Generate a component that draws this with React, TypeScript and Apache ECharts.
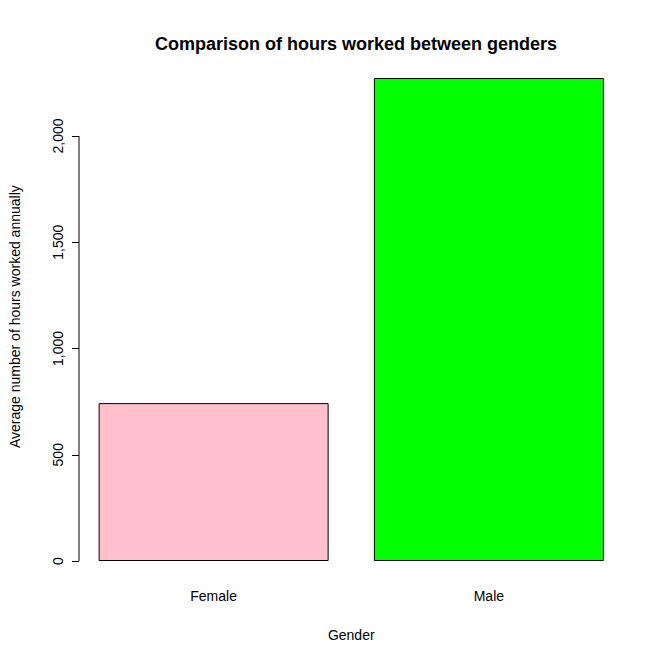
import React, { useEffect, useRef } from "react";
import * as echarts from "echarts";

const categories = ["Female", "Male"];
const hours = [743, 2273];
const barColors = ["#FFC0CB", "#00FF00"];
const yTicks = [0, 500, 1000, 1500, 2000];

export default function App() {
  const ref = useRef<HTMLDivElement>(null);
  useEffect(() => {
    const chart = echarts.init(ref.current!, undefined, { renderer: "svg" });
    const font = "Liberation Sans, Arial, sans-serif";
    chart.setOption({
      animation: false,
      textStyle: { fontFamily: font },
      title: {
        text: "Comparison of hours worked between genders",
        left: 351, top: 30, textAlign: "center",
        textStyle: { fontSize: 18, fontWeight: "bold", color: "#000", fontFamily: font },
      },
      grid: { left: 75, width: 551.5, top: 72.25, height: 488.75 },
      xAxis: {
        type: "category", data: categories,
        axisLine: { show: false }, axisTick: { show: false },
        axisLabel: { color: "#000", fontSize: 14, margin: 28, fontFamily: font },
        name: "Gender", nameLocation: "middle", nameGap: 67,
        nameTextStyle: { color: "#000", fontSize: 14, fontFamily: font },
      },
      yAxis: {
        type: "value", min: 0, max: 2300, offset: -3,
        splitLine: { show: false },
        axisLine: { show: false },
        axisTick: { show: true, length: 7, customValues: yTicks, lineStyle: { color: "#000" } },
        axisLabel: { rotate: 90, customValues: yTicks, color: "#000", fontSize: 14, margin: 14, fontFamily: font },
        name: "Average number of hours worked annually", nameLocation: "middle", nameGap: 57,
        nameTextStyle: { color: "#000", fontSize: 14, fontFamily: font },
      },
      series: [
        {
          type: "bar", barWidth: 230,
          data: hours.map((v, i) => ({ value: v, itemStyle: { color: barColors[i] } })),
          itemStyle: { borderColor: "#000", borderWidth: 1 },
        },
        {
          type: "custom", silent: true,
          data: [[0, 0]],
          renderItem: (params: any, api: any) => {
            const p0 = api.coord([0, yTicks[0]]);
            const p1 = api.coord([0, yTicks[yTicks.length - 1]]);
            const x = params.coordSys.x + 3;
            return {
              type: "line",
              shape: { x1: x, y1: p0[1], x2: x, y2: p1[1] },
              style: { stroke: "#000", lineWidth: 1 },
            };
          },
        },
      ],
    });
    return () => chart.dispose();
  }, []);
  return <div ref={ref} style={{ position: "absolute", left: 0, top: 0, width: 664, height: 664, background: "#fff" }} />;
}
